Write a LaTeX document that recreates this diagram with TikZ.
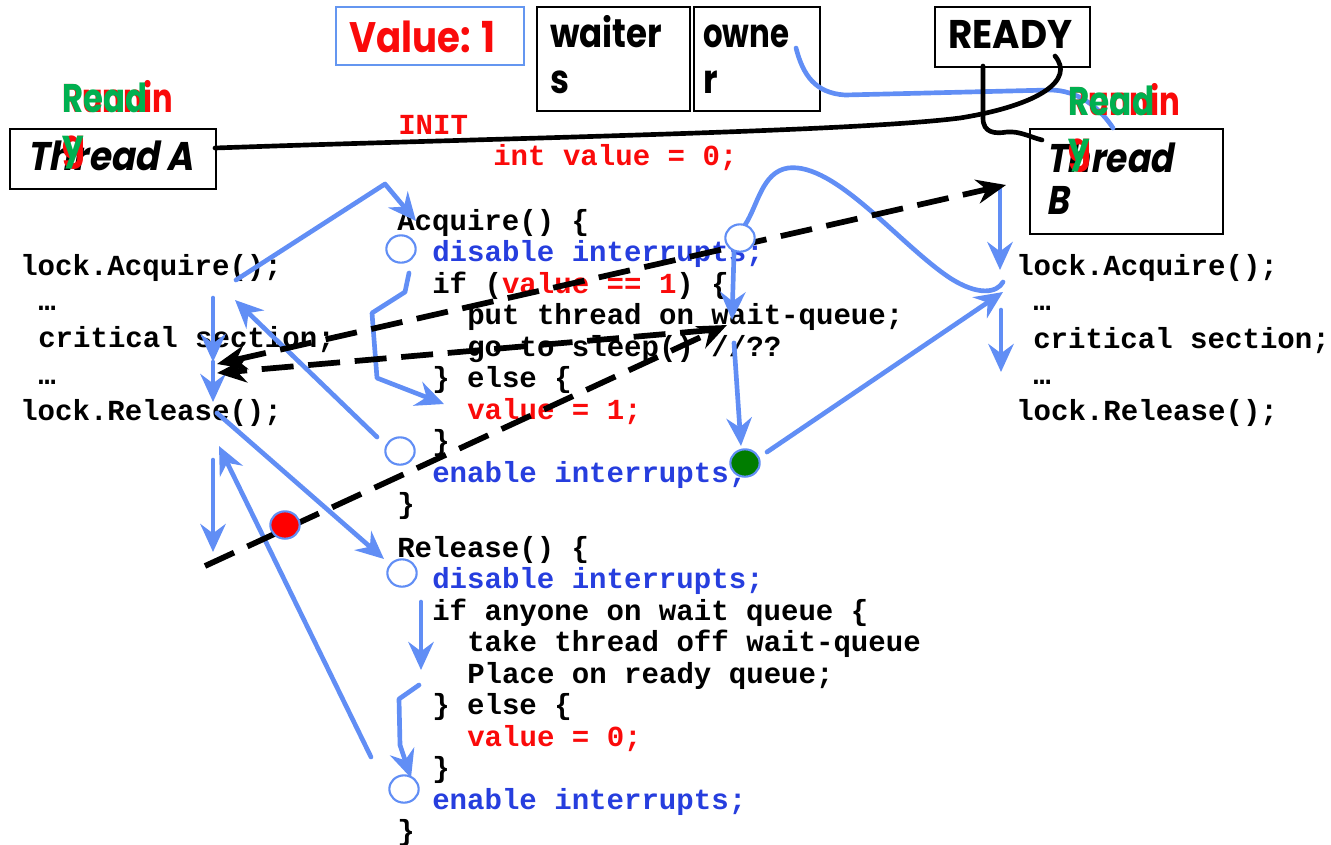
\documentclass[tikz,border=0pt]{standalone}
\usepackage{fontspec}
\usepackage{graphicx}
\usetikzlibrary{arrows.meta,shapes.geometric}
\newfontfamily\handfont{Poppins}
\newfontfamily\handslant{Poppins}[FakeSlant=0.2]
\newfontfamily\codefont{Liberation Mono}
\newdimen\pxu \pxu=0.75pt
\definecolor{flow}{RGB}{97,142,245}
\definecolor{kwblue}{RGB}{38,62,222}
\definecolor{hotred}{RGB}{250,10,10}
\definecolor{readygreen}{RGB}{0,176,80}
\definecolor{dotgreen}{RGB}{0,125,0}
\definecolor{boxblue}{RGB}{100,150,240}
\tikzset{
  code/.style={font=\codefont\bfseries\fontsize{21.8}{24}\selectfont, inner sep=0pt, anchor=base west, text=black},
  hand/.style={font=\handfont\bfseries\fontsize{30}{34}\selectfont, inner sep=0pt, anchor=base west},
  handit/.style={font=\handslant\bfseries\fontsize{30}{34}\selectfont, inner sep=0pt, anchor=base west},
  frame/.style={draw=black, line width=1.6pt, inner sep=0pt, anchor=north west},
  ring/.style={ellipse, draw=flow, line width=1.6pt, fill=white, minimum width=22pt, minimum height=20.5pt, inner sep=0pt},
  flowline/.style={draw=flow, line width=3.5pt, line cap=round, line join=round},
  flowarrow/.style={flowline, -{Stealth[length=21pt,width=19pt,inset=7pt]}},
  dashline/.style={draw=black, line width=4.3pt, dash pattern=on 24pt off 11pt},
  blacktip/.style={-{Stealth[length=22pt,width=18pt,inset=7pt]}},
  stroke/.style={draw=black, line width=3.5pt, line cap=round}
}
\begin{document}
\begin{tikzpicture}[x=0.75pt,y=-0.75pt]
\useasboundingbox (0,0) rectangle (1331,844);

% ---- boxes along the top ----
\node[frame, draw=boxblue, minimum width=188\pxu, minimum height=58\pxu] (valbox) at (335,6) {};
\node[hand, text=hotred] (valtext) at (349,52) {\resizebox{146\pxu}{\height}{\fontsize{32}{36}\selectfont Value: 1}};
\node[frame, minimum width=153\pxu, minimum height=104\pxu] (waiters) at (536,6) {};
\node[frame, minimum width=126\pxu, minimum height=104\pxu] (owner) at (693,6) {};
\node[hand] (waitA) at (550,47) {\resizebox{112\pxu}{\height}{waiter}};
\node[hand] (waitB) at (550,93) {\scalebox{0.85}[1]{s}};
\node[hand] (ownA) at (703,47) {\resizebox{86\pxu}{\height}{owne}};
\node[hand] (ownB) at (703,93) {\scalebox{0.85}[1]{r}};
\node[frame, minimum width=155\pxu, minimum height=60\pxu] (ready) at (934,6) {};
\node[hand] (readytext) at (948,48) {\resizebox{124\pxu}{\height}{READY}};

% ---- thread boxes ----
\node[frame, minimum width=206\pxu, minimum height=60\pxu] (threadA) at (9,128) {};
\node[handit] (threadAtext) at (27,170) {\resizebox{166\pxu}{\height}{Thread A}};
\node[frame, minimum width=193\pxu, minimum height=105\pxu] (threadB) at (1029,128) {};
\node[handit] (threadBtext) at (1046,172) {\resizebox{127\pxu}{\height}{Thread}};
\node[handit] (threadBtextB) at (1046,214) {\scalebox{0.85}[1]{B}};

% ---- initialisation ----
\node[code, text=hotred] (init) at (398,134) {INIT};
\node[code, text=hotred] (initv) at (493,165) {int value = 0;};

% ---- thread A program ----
\node[code] (la1) at (20,275) {lock.Acquire();};
\node[code] (la2) at (38,310) {…};
\node[code] (la3) at (38,347) {critical section;};
\node[code] (la4) at (38,384) {…};
\node[code] (la5) at (20,420) {lock.Release();};

% ---- thread B program ----
\node[code] (lb1) at (1016,275) {lock.Acquire();};
\node[code] (lb2) at (1033,310) {…};
\node[code] (lb3) at (1033,348) {critical section;};
\node[code] (lb4) at (1033,384) {…};
\node[code] (lb5) at (1016,420) {lock.Release();};

% ---- Acquire() ----
\node[code] (acq0) at (397,230) {Acquire() \{};
\node[code, text=kwblue] (acq1) at (432,261.5) {disable interrupts;};
\node[code] (acq2) at (432,293) {if (\textcolor{hotred}{value == 1}) \{};
\node[code] (acq3) at (467,324.5) {put thread on wait-queue;};
\node[code] (acq4) at (467,356) {go to sleep() //??};
\node[code] (acq5) at (432,387.5) {\} else \{};
\node[code, text=hotred] (acq6) at (467,419) {value = 1;};
\node[code] (acq7) at (432,450.5) {\}};
\node[code, text=kwblue] (acq8) at (432,482) {enable interrupts;};
\node[code] (acq9) at (397,513.5) {\}};

% ---- Release() ----
\node[code] (rel0) at (397,557) {Release() \{};
\node[code, text=kwblue] (rel1) at (432,588.5) {disable interrupts;};
\node[code] (rel2) at (432,620) {if anyone on wait queue \{};
\node[code] (rel3) at (467,651.5) {take thread off wait-queue};
\node[code] (rel4) at (467,683) {Place on ready queue;};
\node[code] (rel5) at (432,714.5) {\} else \{};
\node[code, text=hotred] (rel6) at (467,746) {value = 0;};
\node[code] (rel7) at (432,777.5) {\}};
\node[code, text=kwblue] (rel8) at (432,809) {enable interrupts;};
\node[code] (rel9) at (397,840.5) {\}};

% ---- end points of the flow lines ----
\coordinate (b1s) at (236,280); \coordinate (b1m) at (385,184); \coordinate (b1e) at (416,221);
\coordinate (b2s) at (213,298); \coordinate (b2m) at (213,362); \coordinate (b2e) at (213,402);
\coordinate (b3s) at (377,437); \coordinate (b3e) at (235,300);
\coordinate (b4s) at (217,413); \coordinate (b4e) at (384,559);
\coordinate (b5s) at (213,460); \coordinate (b5e) at (213,552);
\coordinate (b6s) at (371,757); \coordinate (b6e) at (219,446);
\coordinate (b7s) at (409,273); \coordinate (b7e) at (444,404);
\coordinate (b9s) at (421,602); \coordinate (b9e) at (421,670);
\coordinate (b10s) at (419,685); \coordinate (b10e) at (411,778);
\coordinate (b11s) at (734,253); \coordinate (b11e) at (732,320);
\coordinate (b12s) at (734,343); \coordinate (b12e) at (741,446);
\coordinate (b13s) at (767,452); \coordinate (b13e) at (1003,292);
\coordinate (b14s) at (1000,186); \coordinate (b14e) at (1000,270);
\coordinate (b15s) at (1001,310); \coordinate (b15e) at (1001,372);
\coordinate (b16s) at (745,225); \coordinate (b16e) at (1003,282);
\coordinate (b17s) at (796,48); \coordinate (b17e) at (1113,128);

% ---- blue control-flow arrows ----
\draw[flowarrow] (b1s) -- (b1m) -- (b1e);
\draw[flowarrow] (b2s) -- (b2m);
\draw[flowarrow] (b2m) -- (b2e);
\draw[flowarrow] (b3s) -- (b3e);
\draw[flowarrow] (b4s) -- (b4e);
\draw[flowarrow] (b5s) -- (b5e);
\draw[flowarrow] (b6s) -- (b6e);
\draw[flowarrow] (b7s) -- (405,292) -- (372,313) -- (377,378) -- (b7e);
\draw[flowarrow] (b9s) -- (b9e);
\draw[flowarrow] (b10s) -- (399,699) -- (400,745) -- (b10e);
\draw[flowarrow] (b11s) -- (b11e);
\draw[flowarrow] (b12s) -- (b12e);
\draw[flowarrow] (b13s) -- (b13e);
\draw[flowarrow] (b14s) -- (b14e);
\draw[flowarrow] (b15s) -- (b15e);
\draw[flowline] (b16s) .. controls (758,205) and (762,172) .. (788,168)
  .. controls (835,162) and (900,245) .. (950,278)
  .. controls (978,296) and (997,293) .. (b16e);
\draw[flowline] (b17s) .. controls (803,75) and (815,93) .. (845,95)
  -- (1050,90) .. controls (1078,90) and (1100,108) .. (b17e);

% ---- dashed context switches ----
\coordinate (d1a) at (217,364); \coordinate (d1b) at (1006,185);
\coordinate (d2a) at (712,330); \coordinate (d2b) at (217,373);
\coordinate (d3a) at (205,566); \coordinate (d3b) at (727,325);
\draw[dashline, {Stealth[length=22pt,width=18pt,inset=7pt]}-{Stealth[length=22pt,width=18pt,inset=7pt]}] (d1a) -- (d1b);
\draw[dashline, blacktip] (d2a) -- (d2b);
\draw[dashline, blacktip] (d3a) -- (d3b);

% ---- black links to the READY queue ----
\coordinate (k1s) at (215,148); \coordinate (k1e) at (1055,56);
\coordinate (k2s) at (983,66); \coordinate (k2e) at (1042,140);
\draw[stroke] (k1s) .. controls (500,138) and (850,132) .. (960,118)
  .. controls (1040,105) and (1075,80) .. (k1e);
\draw[stroke] (k2s) -- (983,118) .. controls (983,133) and (995,134) .. (1007,132)
  .. controls (1020,131) and (1030,137) .. (k2e);

% ---- markers ----
\node[ring] (c1) at (401,249) {};
\node[ring] (c2) at (740,238) {};
\node[ring] (c3) at (400,451) {};
\node[ring] (c4) at (402,573) {};
\node[ring] (c5) at (404,789) {};
\node[ring, fill=dotgreen] (gdot) at (745,463) {};
\node[ring, fill=red] (rdot) at (285,525) {};

% ---- thread state labels ----
\node[hand, text=hotred] (runA) at (62,112) {\resizebox{111\pxu}{\height}{Runnin}};
\node[hand, text=hotred] (runA2) at (62,158) {\scalebox{0.85}[1]{g}};
\node[hand, text=readygreen] (rdyA) at (62,112) {\resizebox{85\pxu}{\height}{Read}};
\node[hand, text=readygreen] (rdyA2) at (62,158) {\scalebox{0.85}[1]{y}};
\node[hand, text=hotred] (runB) at (1068,115) {\resizebox{112\pxu}{\height}{Runnin}};
\node[hand, text=hotred] (runB2) at (1068,161) {\scalebox{0.85}[1]{g}};
\node[hand, text=readygreen] (rdyB) at (1068,115) {\resizebox{86\pxu}{\height}{Read}};
\node[hand, text=readygreen] (rdyB2) at (1068,161) {\scalebox{0.85}[1]{y}};
\end{tikzpicture}
\end{document}
